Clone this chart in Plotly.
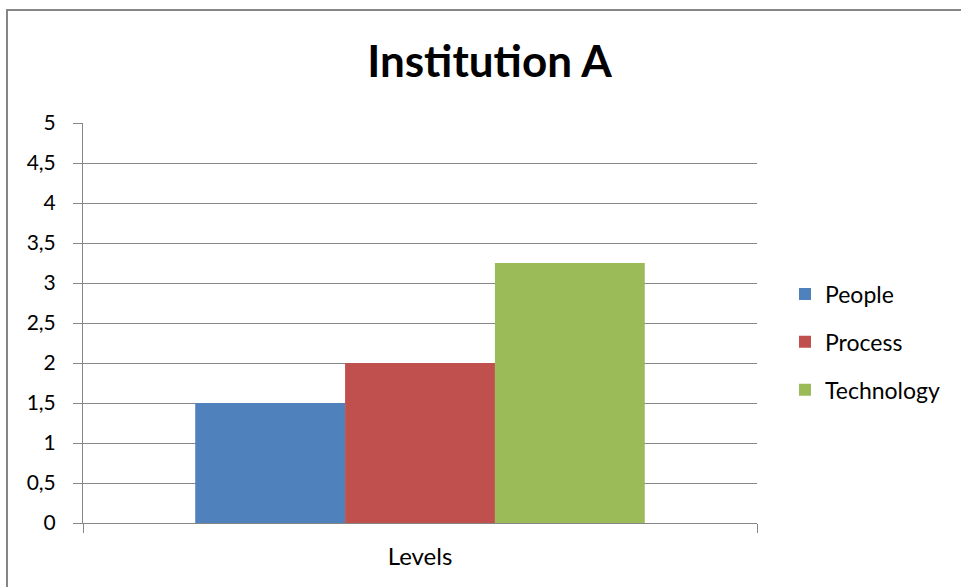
import plotly.graph_objects as go

categories = ["Levels"]
series_names = ["People", "Process", "Technology"]
series_values = [[1.5], [2.0], [3.25]]
series_colors = ["#4F81BD", "#C0504D", "#9BBB59"]
y_tickvals = [0, 0.5, 1, 1.5, 2, 2.5, 3, 3.5, 4, 4.5, 5]
y_ticktext = ["0", "0,5", "1", "1,5", "2", "2,5", "3", "3,5", "4", "4,5", "5"]

fig = go.Figure()
for i, (name, vals, col) in enumerate(zip(series_names, series_values, series_colors)):
    fig.add_trace(go.Bar(x=categories, y=vals, name=name, marker_color=col,
                         marker_line_width=0, legendgroup=name))

L, R, T, B = 83, 204, 123, 64
W, H = 961, 587
pw, ph = W - L - R, H - T - B

fig.update_layout(
    width=W, height=H,
    margin=dict(l=L, r=R, t=T, b=B),
    paper_bgcolor="white", plot_bgcolor="white",
    barmode="group", bargap=0.333, bargroupgap=0,
    font=dict(family="Lato, sans-serif", size=20, color="#000000"),
    title=dict(text="<b>Institution A</b>", x=(489.5 - L) / pw, xref="paper", xanchor="center",
               y=1 - 62 / H, yanchor="middle",
               font=dict(family="Lato, sans-serif", size=44, color="#000000")),
    showlegend=True,
    legend=dict(x=(785 - L) / pw, y=(523 - 342) / ph, xanchor="left", yanchor="middle",
                font=dict(size=23), tracegroupgap=15, bgcolor="rgba(0,0,0,0)"),
    xaxis=dict(showline=True, linecolor="#868686", linewidth=1, ticks="outside",
               tickson="boundaries", ticklen=9, tickcolor="#868686",
               showgrid=False, tickfont=dict(size=24), range=[-0.5, 0.5],
               ticklabelstandoff=12),
    yaxis=dict(range=[0, 5], tickvals=y_tickvals, ticktext=y_ticktext,
               showline=True, linecolor="#868686", linewidth=1, ticks="outside",
               ticklen=9, tickcolor="#868686", showgrid=True, gridcolor="#868686",
               gridwidth=1, zeroline=False, tickfont=dict(size=21),
               ticklabelstandoff=13),
    shapes=[dict(type="rect", xref="paper", yref="paper",
                 x0=(7 - L) / pw, x1=(970 - L) / pw,
                 y0=(H - B - 600) / ph, y1=(H - B - 10) / ph,
                 line=dict(color="#868686", width=2), fillcolor="rgba(0,0,0,0)", layer="above")],
)

fig.write_html("out.html")
